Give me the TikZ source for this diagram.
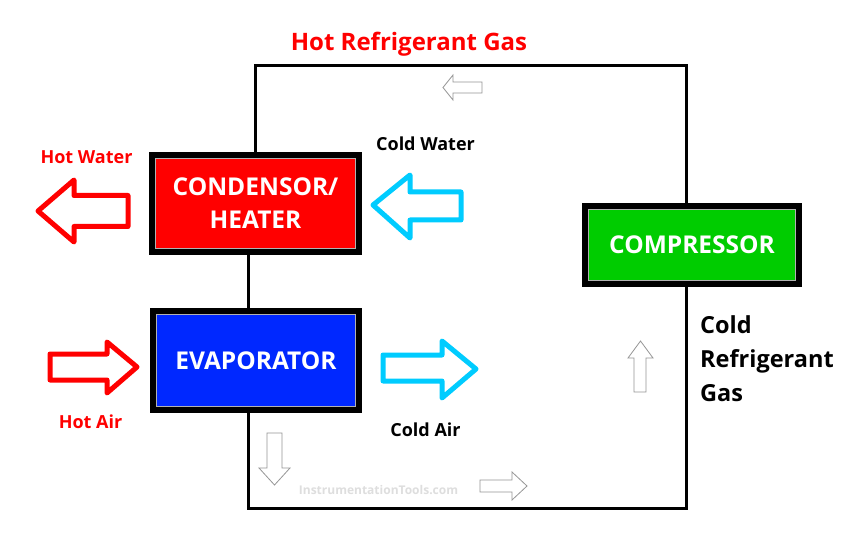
\documentclass[tikz,border=0pt]{standalone}
\usepackage{fontspec}
\setmainfont{Open Sans}
\definecolor{hotred}{RGB}{255,0,0}
\definecolor{evblue}{RGB}{0,40,255}
\definecolor{cmpgreen}{RGB}{0,204,0}
\definecolor{coldcyan}{RGB}{0,204,255}
\definecolor{flowgray}{RGB}{150,150,150}
\definecolor{wmgray}{RGB}{222,222,222}
\tikzset{
  unitbox/.style={draw=black, line width=6pt, inner sep=0pt, outer sep=0pt,
    text=white, font=\bfseries\fontsize{24.5}{33}\selectfont, align=center},
  loopline/.style={draw=black, line width=3pt},
  bigarrow/.style={line width=5pt, line join=round, fill=white},
  flowarrow/.style={draw=flowgray, line width=0.8pt, fill=white},
  lbl/.style={font=\bfseries\fontsize{18}{20}\selectfont, inner sep=0pt},
  inframe/.style={draw=gray!60, line width=0.7pt}
}
\begin{document}
\begin{tikzpicture}[x=1pt,y=-1pt]
\useasboundingbox[fill=white] (0,0) rectangle (860,548);

% units
\node[unitbox, fill=hotred, minimum width=207pt, minimum height=97pt] (cond) at (255.5,203.5) {CONDENSOR/\\HEATER};
\node[unitbox, fill=evblue, minimum width=206pt, minimum height=99pt] (evap) at (256,360.5) {EVAPORATOR};
\node[unitbox, fill=cmpgreen, minimum width=214pt, minimum height=78pt] (comp) at (692,245) {COMPRESSOR};
\foreach \n in {cond,evap,comp}
  \draw[inframe] ([shift={(3.4,3.4)}]\n.north west) rectangle ([shift={(-3.4,-3.4)}]\n.south east);

% loop
\coordinate (tl) at (255,66);
\coordinate (tr) at (686,66);
\coordinate (bl) at (248,508);
\coordinate (br) at (686,508);
\draw[loopline, line join=miter] (cond.north -| tl) -- (tl) -- (tr) -- (comp.north -| tr);
\draw[loopline, line join=miter] (comp.south -| tr) -- (br) -- (bl) -- (evap.south -| bl);
\draw[loopline] (cond.south -| bl) -- (evap.north -| bl);

% big arrows
\draw[bigarrow, draw=hotred] (38,211) -- (74,180) -- (74,195.5) -- (128,195.5) -- (128,226.5) -- (74,226.5) -- (74,242) -- cycle;
\draw[bigarrow, draw=coldcyan] (373,205) -- (410,175) -- (410,192) -- (461,192) -- (461,220) -- (410,220) -- (410,238) -- cycle;
\draw[bigarrow, draw=hotred] (137,367) -- (107,342) -- (107,354) -- (50,354) -- (50,380) -- (107,380) -- (107,393) -- cycle;
\draw[bigarrow, draw=coldcyan] (476,369) -- (442,341) -- (442,355) -- (383,355) -- (383,381) -- (442,381) -- (442,398) -- cycle;

% flow arrows
\draw[flowarrow] (443,87.5) -- (453,75) -- (453,82) -- (482,82) -- (482,93) -- (453,93) -- (453,100) -- cycle;
\draw[flowarrow] (274.5,485) -- (259,468) -- (267,468) -- (267,433) -- (282,433) -- (282,468) -- (290,468) -- cycle;
\draw[flowarrow] (527,486) -- (512,472) -- (512,480) -- (480,480) -- (480,492) -- (512,492) -- (512,500) -- cycle;
\draw[flowarrow] (640.5,341) -- (628,358) -- (634,358) -- (634,392) -- (646,392) -- (646,358) -- (653,358) -- cycle;

% labels
\node[lbl, text=hotred, font=\bfseries\fontsize{24}{26}\selectfont] (hrg) at (409,44) {Hot Refrigerant Gas};
\node[lbl, text=black] (cw) at (425.5,144) {Cold Water};
\node[lbl, text=hotred] (hw) at (86.5,157) {Hot Water};
\node[lbl, text=hotred] (ha) at (90.5,422) {Hot Air};
\node[lbl, text=black] (ca) at (425.5,430) {Cold Air};
\node[lbl, text=black, font=\bfseries\fontsize{23.5}{34}\selectfont, align=left, anchor=west] (crg) at (700,359) {Cold\\Refrigerant\\Gas};
\node[lbl, text=wmgray, font=\bfseries\fontsize{12}{14}\selectfont] (wm) at (378.5,490) {InstrumentationTools.com};
\end{tikzpicture}
\end{document}
